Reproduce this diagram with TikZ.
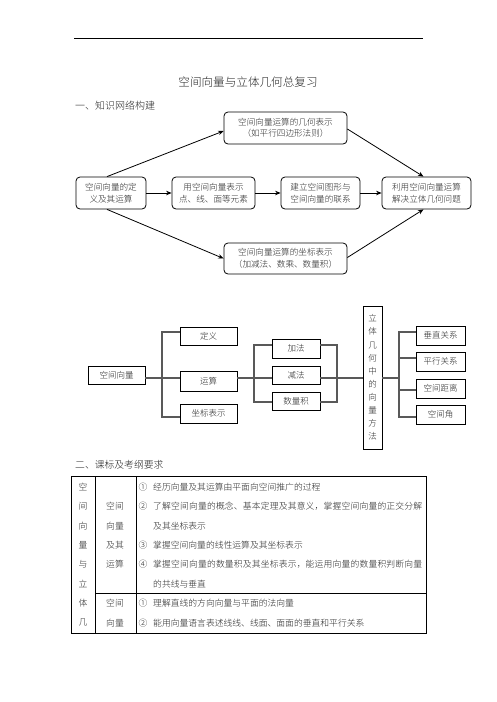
\documentclass[tikz,border=0pt]{standalone}
\usepackage{fontspec}
\setmainfont{Noto Sans CJK SC}[UprightFont=* Light]
\usetikzlibrary{arrows.meta}
\makeatletter
\def\spreadline#1#2{\hbox to #1{\spr@#2\relax\unskip}}
\def\spr@#1{\ifx\relax#1\else#1\hskip0pt plus1fil\expandafter\spr@\fi}
\makeatother
\begin{document}
\begin{tikzpicture}[x=1pt,y=-1pt,
 txt/.style={text=black!85, inner sep=0pt},
 rbox/.style={draw, line width=0.8pt, rounded corners=4pt, align=center, text=black!85,
   font=\fontsize{8.6}{11.5}\selectfont, inner sep=0pt},
 arr/.style={line width=0.8pt, -{Stealth[length=5.5pt,width=4.5pt]}},
 sbox/.style={draw, line width=0.7pt, inner sep=0pt, text=black!85, font=\fontsize{8.5}{10}\selectfont},
 conn/.style={draw=black!65, line width=1.2pt},
 cell/.style={inner sep=0pt, text=black!85, font=\fontsize{8.8}{10}\selectfont},
 tline/.style={line width=0.8pt},
]
\useasboundingbox (0,0) rectangle (496,702);
\fill[white] (0,0) rectangle (496,702);

% header rule and titles
\coordinate (r1) at (74,38);
\coordinate (r2) at (423,38);
\draw[line width=0.9pt] (r1) -- (r2);
\node[txt, font=\fontsize{11.6}{13}\selectfont] (title) at (248,82) {空间向量与立体几何总复习};
\node[txt, anchor=west, font=\fontsize{10}{12}\selectfont] (h1) at (75,106) {一、知识网络构建};
\node[txt, anchor=west, font=\fontsize{9.8}{12}\selectfont] (h2) at (75,465) {二、课标及考纲要求};

% diagram 1
\node[rbox, minimum width=70pt, minimum height=32pt] (A) at (111,193) {空间向量的定\\义及其运算};
\node[rbox, minimum width=83pt, minimum height=32pt] (B) at (213.5,193) {用空间向量表示\\点、线、面等元素};
\node[rbox, minimum width=79pt, minimum height=32pt] (C) at (320.5,193) {建立空间图形与\\空间向量的联系};
\node[rbox, minimum width=89pt, minimum height=32pt] (D) at (426.5,193) {利用空间向量运算\\解决立体几何问题};
\node[rbox, minimum width=123pt, minimum height=32pt] (T) at (285.5,128) {空间向量运算的几何表示\\（如平行四边形法则）};
\node[rbox, minimum width=123pt, minimum height=31pt] (U) at (285.5,258.5) {空间向量运算的坐标表示\\（加减法、数乘、数量积）};

\draw[arr] ([xshift=-4pt]A.north) -- ([yshift=-3pt]T.west);
\draw[arr] ([yshift=-1pt]T.east) -- ([xshift=-3pt]D.north);
\draw[arr] ([xshift=-4pt]A.south) -- (U.west);
\draw[arr] ([yshift=1pt]U.east) -- ([xshift=-3pt]D.south);
\draw[arr] (A.east) -- (B.west);
\draw[arr] (B.east) -- (C.west);
\draw[arr] (C.east) -- (D.west);

% diagram 2
\node[sbox, minimum width=57pt, minimum height=18pt] (SV) at (116.5,375) {空间向量};
\node[sbox, minimum width=57pt, minimum height=18pt] (DY) at (208.5,336) {定义};
\node[sbox, minimum width=57pt, minimum height=20pt] (YS) at (208.5,381) {运算};
\node[sbox, minimum width=57pt, minimum height=19pt] (ZB) at (208.5,413.5) {坐标表示};
\node[sbox, minimum width=48pt, minimum height=19pt] (JF) at (296,348.5) {加法};
\node[sbox, minimum width=48pt, minimum height=18pt] (JN) at (296,375) {减法};
\node[sbox, minimum width=48pt, minimum height=18pt] (SL) at (296,401) {数量积};
\node[sbox, minimum width=19pt, minimum height=143pt, align=center,
      font=\fontsize{8.5}{13.1}\selectfont] (V) at (372.5,377.5) {立\\体\\几\\何\\中\\的\\向\\量\\方\\法};
\node[sbox, minimum width=49pt, minimum height=19pt] (R1) at (440.5,335.5) {垂直关系};
\node[sbox, minimum width=49pt, minimum height=19pt] (R2) at (440.5,361.5) {平行关系};
\node[sbox, minimum width=49pt, minimum height=19pt] (R3) at (440.5,388.5) {空间距离};
\node[sbox, minimum width=49pt, minimum height=19pt] (R4) at (440.5,414.5) {空间角};

\coordinate (b1t) at (162,332);
\coordinate (b1m) at (162,378);
\coordinate (b1b) at (162,417);
\coordinate (b2t) at (254,345);
\coordinate (b2m) at (254,378);
\coordinate (b2b) at (254,402);
\coordinate (b3t) at (337,345);
\coordinate (b3m) at (337,378);
\coordinate (b3b) at (337,402);
\coordinate (b4t) at (399,332);
\coordinate (b4a) at (399,358);
\coordinate (b4m) at (399,378);
\coordinate (b4c) at (399,390);
\coordinate (b4b) at (399,417);

\draw[conn] (DY.west |- b1t) -- (b1t) -- (b1b) -- (ZB.west |- b1b);
\draw[conn] (SV.east |- b1m) -- (YS.west |- b1m);
\draw[conn] (YS.east |- b1m) -- (JN.west |- b2m);
\draw[conn] (JF.west |- b2t) -- (b2t) -- (b2b) -- (SL.west |- b2b);
\draw[conn] (JF.east |- b3t) -- (b3t) -- (b3b) -- (SL.east |- b3b);
\draw[conn] (JN.east |- b3m) -- (V.west |- b3m);
\draw[conn] (V.east |- b4m) -- (b4m);
\draw[conn] (R1.west |- b4t) -- (b4t) -- (b4b) -- (R4.west |- b4b);
\draw[conn] (b4a) -- (R2.west |- b4a);
\draw[conn] (b4c) -- (R3.west |- b4c);

% table
\draw[tline] (71,476) rectangle (426,633);
\draw[tline] (95,476) -- (95,633);
\draw[tline] (136,476) -- (136,633);
\draw[tline] (95,593) -- (426,593);

\foreach \ch [count=\i from 0] in {空,间,向,量,与,立,体,几}
  \node[cell] (c1r\i) at (83,{487+19.4*\i}) {\ch};

\node[cell] (c2a) at (115,506.4) {空间};
\node[cell] (c2b) at (115,525.8) {向量};
\node[cell] (c2c) at (115,545.2) {及其};
\node[cell] (c2d) at (115,564.6) {运算};
\node[cell] (c2e) at (115,603.4) {空间};
\node[cell] (c2f) at (115,622.8) {向量};

\node[cell] (n1) at (143,487) {①};
\node[cell] (n2) at (143,506.4) {②};
\node[cell] (n3) at (143,545.2) {③};
\node[cell] (n4) at (143,564.6) {④};
\node[cell] (n5) at (143,603.4) {①};
\node[cell] (n6) at (143,622.8) {②};

\node[cell, anchor=west] (t1) at (153,487) {经历向量及其运算由平面向空间推广的过程};
\node[cell, anchor=west] (t2) at (153,506.4) {\spreadline{269pt}{了解空间向量的概念、基本定理及其意义，掌握空间向量的正交分解}};
\node[cell, anchor=west] (t3) at (153,525.8) {及其坐标表示};
\node[cell, anchor=west] (t4) at (153,545.2) {掌握空间向量的线性运算及其坐标表示};
\node[cell, anchor=west] (t5) at (153,564.6) {\spreadline{269pt}{掌握空间向量的数量积及其坐标表示，能运用向量的数量积判断向量}};
\node[cell, anchor=west] (t6) at (153,584) {的共线与垂直};
\node[cell, anchor=west] (t7) at (153,603.4) {理解直线的方向向量与平面的法向量};
\node[cell, anchor=west] (t8) at (153,622.8) {能用向量语言表述线线、线面、面面的垂直和平行关系};
\end{tikzpicture}
\end{document}
